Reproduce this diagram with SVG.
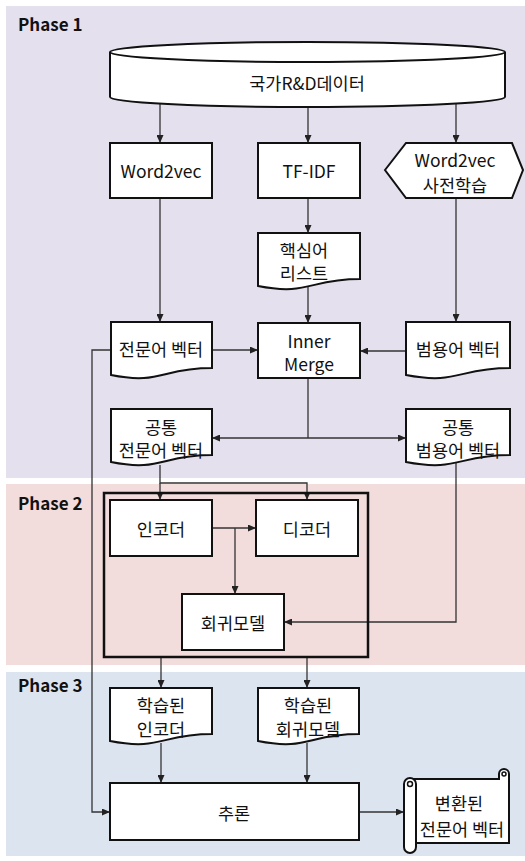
<svg xmlns="http://www.w3.org/2000/svg" width="525" height="861" viewBox="0 0 525 861">
<defs>
<marker id="ah" markerUnits="userSpaceOnUse" markerWidth="8" markerHeight="7" refX="8" refY="3.5" orient="auto">
<path d="M0,0 L8,3.5 L0,7 z" fill="#222"/>
</marker>
<style>
.lbl{font-family:"Noto Sans CJK KR","Noto Sans",sans-serif;font-size:17px;font-weight:bold;fill:#111}
.t{font-family:"Noto Sans CJK KR","Noto Sans",sans-serif;font-size:17.5px;fill:#111;text-anchor:middle;dominant-baseline:central}
.n{fill:#fff;stroke:#111;stroke-width:2}
.c{fill:none;stroke:#333;stroke-width:1.3}
.a{marker-end:url(#ah)}
</style>
</defs>
<rect x="0" y="0" width="525" height="861" fill="#fff"/>
<g id="panels">
<rect x="6" y="6" width="519" height="472" fill="#e4e0ed"/>
<rect x="6" y="484" width="519" height="181" fill="#f2dcdc"/>
<rect x="6" y="672" width="519" height="184" fill="#dce4f0"/>
<text class="lbl" x="18" y="31">Phase 1</text>
<text class="lbl" x="18" y="510">Phase 2</text>
<text class="lbl" x="18" y="692">Phase 3</text>
</g>
<g id="connectors">
<path class="c a" d="M160,104 V143"/>
<path class="c a" d="M308,107 V143"/>
<path class="c a" d="M456,104 V143"/>
<path class="c a" d="M160,198 V322"/>
<path class="c a" d="M308,198 V233"/>
<path class="c a" d="M308,287 V323"/>
<path class="c a" d="M456,198 V322"/>
<path class="c a" d="M212,350 H258"/>
<path class="c a" d="M406,351 H360"/>
<path class="c" d="M308,378 V438"/>
<path class="c a" d="M308,438 H212"/>
<path class="c a" d="M308,438 H406"/>
<path class="c a" d="M111,350 H92 V812 H110"/>
<path class="c a" d="M160,465 V483 H307 V500"/>
<path class="c a" d="M160,483 V500"/>
<path class="c a" d="M212,528 H256"/>
<path class="c a" d="M235,528 V594"/>
<path class="c a" d="M456,462 V622 H284"/>
<path class="c a" d="M161,657 V688"/>
<path class="c a" d="M307,657 V688"/>
<path class="c a" d="M161,743 V783"/>
<path class="c a" d="M307,743 V783"/>
<path class="c a" d="M359,812 H404"/>
</g>
<g id="rnd-data">
<path class="n" d="M110,52 V97 A197.5,10 0 0 0 505,97 V52"/>
<ellipse class="n" cx="307.5" cy="52" rx="197.5" ry="10"/>
<text class="t" x="307" y="82">국가R&amp;D데이터</text>
</g>
<g id="word2vec">
<rect class="n" x="110" y="143" width="102" height="55"/>
<text class="t" x="161" y="170">Word2vec</text>
</g>
<g id="tfidf">
<rect class="n" x="258" y="143" width="102" height="55"/>
<text class="t" x="309" y="170">TF-IDF</text>
</g>
<g id="pretrained">
<path class="n" d="M385,170 L406,143 H512 L523,170 L512,198 H406 Z"/>
<text class="t" x="455" y="159">Word2vec</text>
<text class="t" x="455" y="184">사전학습</text>
</g>
<g id="keywords">
<path class="n" d="M258,233 H360 V279 C309,279 309,296 258,286 Z"/>
<text class="t" x="304" y="249">핵심어</text>
<text class="t" x="304" y="272">리스트</text>
</g>
<g id="domain-vec">
<path class="n" d="M111,322 H212 V368 C161,368 161,385 111,375 Z"/>
<text class="t" x="161" y="348">전문어 벡터</text>
</g>
<g id="inner-merge">
<rect class="n" x="258" y="323" width="102" height="55"/>
<text class="t" x="309" y="340">Inner</text>
<text class="t" x="309" y="363">Merge</text>
</g>
<g id="general-vec">
<path class="n" d="M406,322 H510 V368 C458,368 458,385 406,375 Z"/>
<text class="t" x="458" y="348">범용어 벡터</text>
</g>
<g id="common-domain">
<path class="n" d="M111,409 H212 V455 C161,455 161,472 111,462 Z"/>
<text class="t" x="161" y="426">공통</text>
<text class="t" x="161" y="449">전문어 벡터</text>
</g>
<g id="common-general">
<path class="n" d="M406,409 H510 V455 C458,455 458,472 406,462 Z"/>
<text class="t" x="458" y="426">공통</text>
<text class="t" x="458" y="449">범용어 벡터</text>
</g>
<g id="model-box">
<rect x="104" y="493" width="264" height="164" fill="none" stroke="#111" stroke-width="2.5"/>
</g>
<g id="encoder">
<rect class="n" x="110" y="500" width="102" height="56"/>
<text class="t" x="161" y="528">인코더</text>
</g>
<g id="decoder">
<rect class="n" x="256" y="500" width="102" height="56"/>
<text class="t" x="307" y="528">디코더</text>
</g>
<g id="regression">
<rect class="n" x="182" y="594" width="102" height="56"/>
<text class="t" x="233" y="622">회귀모델</text>
</g>
<g id="trained-encoder">
<path class="n" d="M110,688 H212 V734 C161,734 161,751 110,741 Z"/>
<text class="t" x="161" y="704">학습된</text>
<text class="t" x="161" y="728">인코더</text>
</g>
<g id="trained-regression">
<path class="n" d="M258,688 H359 V734 C308,734 308,751 258,741 Z"/>
<text class="t" x="308" y="704">학습된</text>
<text class="t" x="308" y="728">회귀모델</text>
</g>
<g id="inference">
<rect class="n" x="110" y="783" width="249" height="57"/>
<text class="t" x="234" y="812">추론</text>
</g>
<g id="converted">
<path class="n" d="M412,779 H499 V774 A5,5 0 0 1 509,774 V843 H414"/>
<circle cx="504" cy="774" r="2" fill="none" stroke="#111" stroke-width="1.5"/>
<rect class="n" x="404" y="778" width="12" height="75" rx="6"/>
<circle cx="410" cy="784" r="2.5" fill="none" stroke="#111" stroke-width="1.5"/>
<text class="t" x="459" y="802">변환된</text>
<text class="t" x="462" y="828">전문어 벡터</text>
</g>
</svg>
